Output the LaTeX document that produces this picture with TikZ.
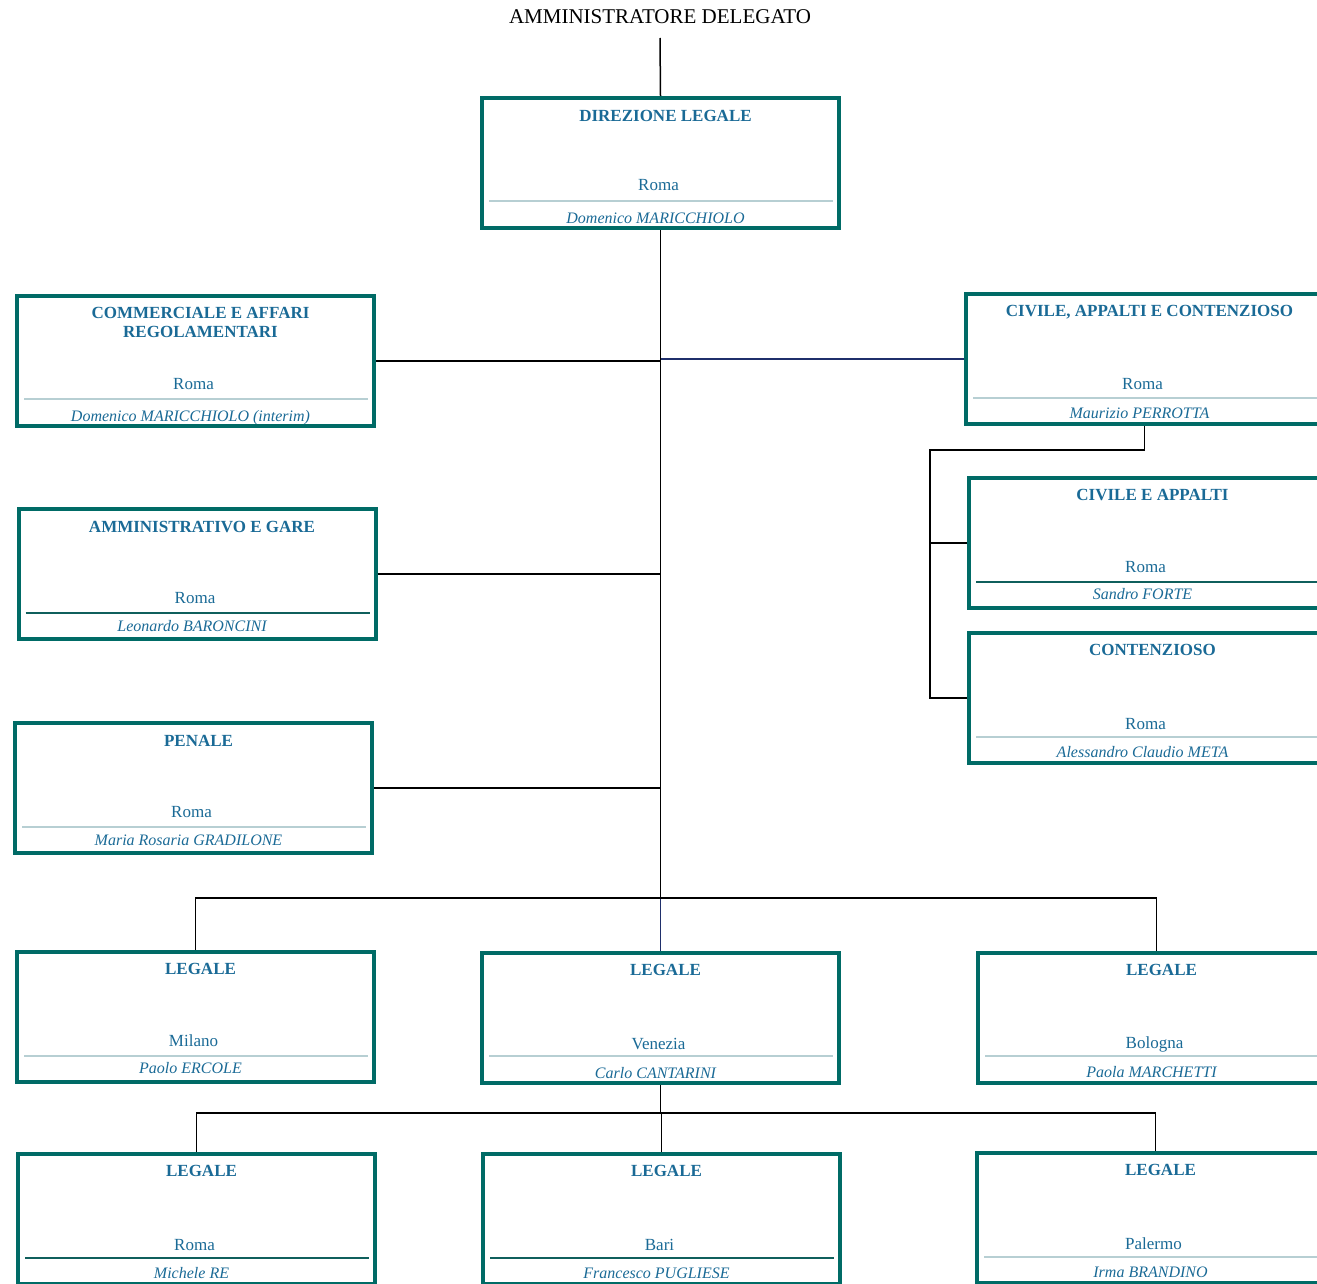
\documentclass[tikz,border=0pt]{standalone}
\usepackage{fontspec}
\setmainfont{Liberation Serif}
\usepackage{tikz}
\usetikzlibrary{positioning, calc}

\definecolor{boxteal}{HTML}{006B66}
\definecolor{textblue}{HTML}{1A6A96}
\definecolor{seplight}{HTML}{B7CFD3}
\definecolor{sepdark}{HTML}{0F5F5C}
\definecolor{linknavy}{HTML}{1F2F6B}

\begin{document}
\begin{tikzpicture}[
        x=0.5pt, y=-0.5pt,
        unit box/.style={draw=boxteal, line width=2pt, minimum width=178.5pt, minimum height=65pt, inner sep=0pt},
        head text/.style={font=\bfseries\fontsize{8.5}{9.5}\selectfont, text=textblue, align=center, anchor=base, xshift=2.5pt},
        city text/.style={font=\fontsize{8.5}{10}\selectfont, text=textblue, anchor=base, xshift=-1pt},
        name text/.style={font=\itshape\fontsize{8}{10}\selectfont, text=textblue, anchor=base, xshift=-2.5pt},
        title text/.style={font=\fontsize{10.5}{12}\selectfont, text=black, anchor=base},
        sep light/.style={draw=seplight, line width=0.6pt},
        sep dark/.style={draw=sepdark, line width=0.6pt},
        link/.style={draw=black, line width=0.75pt},
        navy link/.style={draw=linknavy, line width=0.6pt}
    ]
    \useasboundingbox (0,0) rectangle (1317,1284);

    % Top
    \node[title text] (ad) at (660,24) {AMMINISTRATORE DELEGATO};
    \node[unit box] (dirlegale) at (660.5,163) {};
    \node[head text] (dirlegale-h) at ([yshift=-12.5pt]dirlegale.north) {DIREZIONE LEGALE};
    \node[city text] (dirlegale-c) at ([yshift=-47.5pt]dirlegale.north) {Roma};
    \node[name text] (dirlegale-n) at ([yshift=-63.5pt]dirlegale.north) {Domenico MARICCHIOLO};
    \draw[sep light] ([xshift=4.5pt,yshift=-52.5pt]dirlegale.north west) -- ([xshift=-4pt,yshift=-52.5pt]dirlegale.north east);

    % Left column
    \node[unit box] (commerciale) at (195.5,361) {};
    \node[head text] (commerciale-h) at ([yshift=-21.5pt]commerciale.north) {COMMERCIALE E AFFARI\\REGOLAMENTARI};
    \node[city text] (commerciale-c) at ([yshift=-47.5pt]commerciale.north) {Roma};
    \node[name text] (commerciale-n) at ([yshift=-63.5pt]commerciale.north) {Domenico MARICCHIOLO (interim)};
    \draw[sep light] ([xshift=4.5pt,yshift=-52.5pt]commerciale.north west) -- ([xshift=-4pt,yshift=-52.5pt]commerciale.north east);

    \node[unit box] (amministrativo) at (197,574) {};
    \node[head text] (amministrativo-h) at ([yshift=-12.5pt]amministrativo.north) {AMMINISTRATIVO E GARE};
    \node[city text] (amministrativo-c) at ([yshift=-48pt]amministrativo.north) {Roma};
    \node[name text] (amministrativo-n) at ([yshift=-62pt]amministrativo.north) {Leonardo BARONCINI};
    \draw[sep dark] ([xshift=4.5pt,yshift=-53pt]amministrativo.north west) -- ([xshift=-4pt,yshift=-53pt]amministrativo.north east);

    \node[unit box] (penale) at (193.5,788) {};
    \node[head text] (penale-h) at ([yshift=-12.5pt]penale.north) {PENALE};
    \node[city text] (penale-c) at ([yshift=-48pt]penale.north) {Roma};
    \node[name text] (penale-n) at ([yshift=-62pt]penale.north) {Maria Rosaria GRADILONE};
    \draw[sep light] ([xshift=4.5pt,yshift=-53pt]penale.north west) -- ([xshift=-4pt,yshift=-53pt]penale.north east);

    % Right column
    \node[unit box] (civileacc) at (1144.5,359) {};
    \node[head text] (civileacc-h) at ([yshift=-12pt]civileacc.north) {CIVILE, APPALTI E CONTENZIOSO};
    \node[city text] (civileacc-c) at ([yshift=-48.5pt]civileacc.north) {Roma};
    \node[name text] (civileacc-n) at ([yshift=-63pt]civileacc.north) {Maurizio PERROTTA};
    \draw[sep light] ([xshift=4.5pt,yshift=-53pt]civileacc.north west) -- ([xshift=-4pt,yshift=-53pt]civileacc.north east);

    \node[unit box] (civileapp) at (1147.5,543) {};
    \node[head text] (civileapp-h) at ([yshift=-12pt]civileapp.north) {CIVILE E APPALTI};
    \node[city text] (civileapp-c) at ([yshift=-48pt]civileapp.north) {Roma};
    \node[name text] (civileapp-n) at ([yshift=-61.5pt]civileapp.north) {Sandro FORTE};
    \draw[sep dark] ([xshift=4.5pt,yshift=-53pt]civileapp.north west) -- ([xshift=-4pt,yshift=-53pt]civileapp.north east);

    \node[unit box] (contenzioso) at (1147.5,698) {};
    \node[head text] (contenzioso-h) at ([yshift=-12pt]contenzioso.north) {CONTENZIOSO};
    \node[city text] (contenzioso-c) at ([yshift=-49pt]contenzioso.north) {Roma};
    \node[name text] (contenzioso-n) at ([yshift=-63pt]contenzioso.north) {Alessandro Claudio META};
    \draw[sep light] ([xshift=4.5pt,yshift=-53pt]contenzioso.north west) -- ([xshift=-4pt,yshift=-53pt]contenzioso.north east);

    % Legale, first row
    \node[unit box] (legmilano) at (195.5,1017) {};
    \node[head text] (legmilano-h) at ([yshift=-12pt]legmilano.north) {LEGALE};
    \node[city text] (legmilano-c) at ([yshift=-48pt]legmilano.north) {Milano};
    \node[name text] (legmilano-n) at ([yshift=-61.5pt]legmilano.north) {Paolo ERCOLE};
    \draw[sep light] ([xshift=4.5pt,yshift=-53pt]legmilano.north west) -- ([xshift=-4pt,yshift=-53pt]legmilano.north east);

    \node[unit box] (legvenezia) at (660.5,1018) {};
    \node[head text] (legvenezia-h) at ([yshift=-12pt]legvenezia.north) {LEGALE};
    \node[city text] (legvenezia-c) at ([yshift=-49pt]legvenezia.north) {Venezia};
    \node[name text] (legvenezia-n) at ([yshift=-63.5pt]legvenezia.north) {Carlo CANTARINI};
    \draw[sep light] ([xshift=4.5pt,yshift=-52.5pt]legvenezia.north west) -- ([xshift=-4pt,yshift=-52.5pt]legvenezia.north east);

    \node[unit box] (legbologna) at (1156.5,1018) {};
    \node[head text] (legbologna-h) at ([yshift=-12pt]legbologna.north) {LEGALE};
    \node[city text] (legbologna-c) at ([yshift=-48.5pt]legbologna.north) {Bologna};
    \node[name text] (legbologna-n) at ([yshift=-63pt]legbologna.north) {Paola MARCHETTI};
    \draw[sep light] ([xshift=4.5pt,yshift=-52.5pt]legbologna.north west) -- ([xshift=-4pt,yshift=-52.5pt]legbologna.north east);

    % Legale, second row
    \node[unit box] (legroma) at (196.5,1219) {};
    \node[head text] (legroma-h) at ([yshift=-12pt]legroma.north) {LEGALE};
    \node[city text] (legroma-c) at ([yshift=-49pt]legroma.north) {Roma};
    \node[name text] (legroma-n) at ([yshift=-63pt]legroma.north) {Michele RE};
    \draw[sep dark] ([xshift=4.5pt,yshift=-53pt]legroma.north west) -- ([xshift=-4pt,yshift=-53pt]legroma.north east);

    \node[unit box] (legbari) at (661.5,1219) {};
    \node[head text] (legbari-h) at ([yshift=-12pt]legbari.north) {LEGALE};
    \node[city text] (legbari-c) at ([yshift=-49pt]legbari.north) {Bari};
    \node[name text] (legbari-n) at ([yshift=-63pt]legbari.north) {Francesco PUGLIESE};
    \draw[sep dark] ([xshift=4.5pt,yshift=-53pt]legbari.north west) -- ([xshift=-4pt,yshift=-53pt]legbari.north east);

    \node[unit box] (legpalermo) at (1155.5,1218) {};
    \node[head text] (legpalermo-h) at ([yshift=-12pt]legpalermo.north) {LEGALE};
    \node[city text] (legpalermo-c) at ([yshift=-49pt]legpalermo.north) {Palermo};
    \node[name text] (legpalermo-n) at ([yshift=-63pt]legpalermo.north) {Irma BRANDINO};
    \draw[sep light] ([xshift=4.5pt,yshift=-53pt]legpalermo.north west) -- ([xshift=-4pt,yshift=-53pt]legpalermo.north east);

    % Junctions
    \coordinate (bus1) at (660.5,898);
    \coordinate (bus2) at (660.5,1113);
    \coordinate (cspine) at (930,450);

    % Connectors
    \draw[link] ([yshift=-7pt]ad.base) -- (dirlegale.north);
    \draw[link] (dirlegale.south) -- (bus1);
    \draw[navy link] (bus1) -- (legvenezia.north);
    \draw[link] (commerciale.east) -- (commerciale.east -| dirlegale.south);
    \draw[navy link] (civileacc.west) -- (civileacc.west -| dirlegale.south);
    \draw[link] (amministrativo.east) -- (amministrativo.east -| dirlegale.south);
    \draw[link] (penale.east) -- (penale.east -| dirlegale.south);
    \draw[link] (legmilano.north) |- (bus1) -| (legbologna.north);

    \draw[link] (civileacc.south) |- (cspine) |- (contenzioso.west);
    \draw[link] (civileapp.west) -- (civileapp.west -| cspine);

    \draw[link] (legvenezia.south) -- (bus2);
    \draw[link] (legroma.north) |- (bus2) -| (legpalermo.north);
    \draw[link] (legbari.north) |- (bus2);

\end{tikzpicture}
\end{document}
